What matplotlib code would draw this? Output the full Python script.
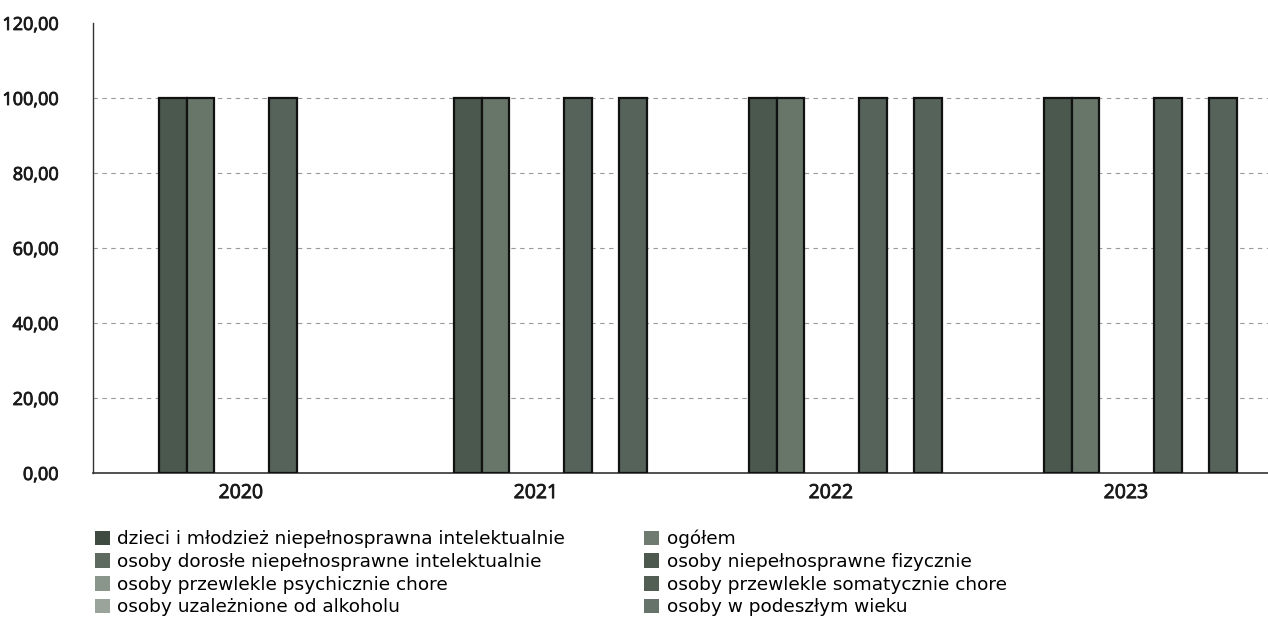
import matplotlib
matplotlib.use("Agg")
import matplotlib.pyplot as plt
import matplotlib.patheffects as pe
import numpy as np
from matplotlib.patches import Patch

years = ["2020", "2021", "2022", "2023"]
series_names = [
    "dzieci i młodzież niepełnosprawna intelektualnie",
    "ogółem",
    "osoby dorosłe niepełnosprawne intelektualnie",
    "osoby niepełnosprawne fizycznie",
    "osoby przewlekle psychicznie chore",
    "osoby przewlekle somatycznie chore",
    "osoby uzależnione od alkoholu",
    "osoby w podeszłym wieku",
]
dzieci = [100, 100, 100, 100]
ogolem = [100, 100, 100, 100]
dorosle = [0, 0, 0, 0]
fizycznie = [0, 0, 0, 0]
psychicznie = [100, 100, 100, 100]
somatycznie = [0, 0, 0, 0]
alkohol = [0, 100, 100, 100]
podeszly = [0, 0, 0, 0]
values = [dzieci, ogolem, dorosle, fizycznie, psychicznie, somatycznie, alkohol, podeszly]
yticks = [0, 20, 40, 60, 80, 100, 120]

colors = ["#4b584d", "#687669", "#5b685c", "#4f5c51", "#56635a", "#4a564c", "#56635a", "#5d6a5f"]
legend_colors = ["#3f4a41", "#6f7b70", "#5e6a5f", "#4d594f", "#8a958b", "#525e54", "#9aa49b", "#66736a"]

fig = plt.figure(figsize=(12.68, 6.22), dpi=100)
ax = fig.add_axes([93 / 1268, 1 - 473 / 622, 1 - 93 / 1268, (473 - 23) / 622])

x = np.arange(len(years))
w = 27.5 / 295
left0 = -82 / 295
for i, vals in enumerate(values):
    edge = ["#111111" if v > 0 else "none" for v in vals]
    ax.bar(x + left0 + (i + 0.5) * w, vals, width=w, color=colors[i],
           edgecolor=edge, linewidth=1.6, zorder=3)

stroke = [pe.withStroke(linewidth=0.6, foreground="#1a1a1a")]
ax.set_xlim(-0.502, 3.481)
ax.set_ylim(0, 120)
ax.set_yticks(yticks)
ax.set_yticklabels([f"{v:.2f}".replace(".", ",") for v in yticks],
                   fontfamily="Open Sans", fontsize=13, color="#1a1a1a", path_effects=stroke)
ax.set_xticks(x)
ax.set_xticklabels(years, fontfamily="Open Sans", fontsize=14, color="#1a1a1a", path_effects=stroke)
ax.tick_params(axis="y", length=0, pad=25)
ax.tick_params(axis="x", length=0, pad=8)
for s in ["top", "right"]:
    ax.spines[s].set_visible(False)
ax.spines["left"].set_color("#333333")
ax.spines["bottom"].set_color("#333333")
ax.spines["left"].set_linewidth(1.0)
ax.spines["bottom"].set_linewidth(1.2)
ax.yaxis.grid(True, linestyle=(0, (4, 4)), color="#9a9a9a", linewidth=0.8, zorder=0)
gl = ax.yaxis.get_gridlines()
gl[0].set_visible(False)
gl[-1].set_visible(False)
ax.set_axisbelow(True)

order = [0, 2, 4, 6, 1, 3, 5, 7]
handles = [Patch(facecolor=legend_colors[i], edgecolor="none") for i in order]
labels = [series_names[i] for i in order]
fig.legend(handles, labels, loc="upper left", bbox_to_anchor=(95 / 1268, 1 - 530 / 622),
           ncol=2, frameon=False, prop={"family": "DejaVu Sans", "size": 13.3},
           handlelength=0.8, handleheight=0.85, handletextpad=0.4, labelspacing=0.25,
           columnspacing=4.3, borderaxespad=0, borderpad=0)

fig.savefig("out.png", dpi=100)
